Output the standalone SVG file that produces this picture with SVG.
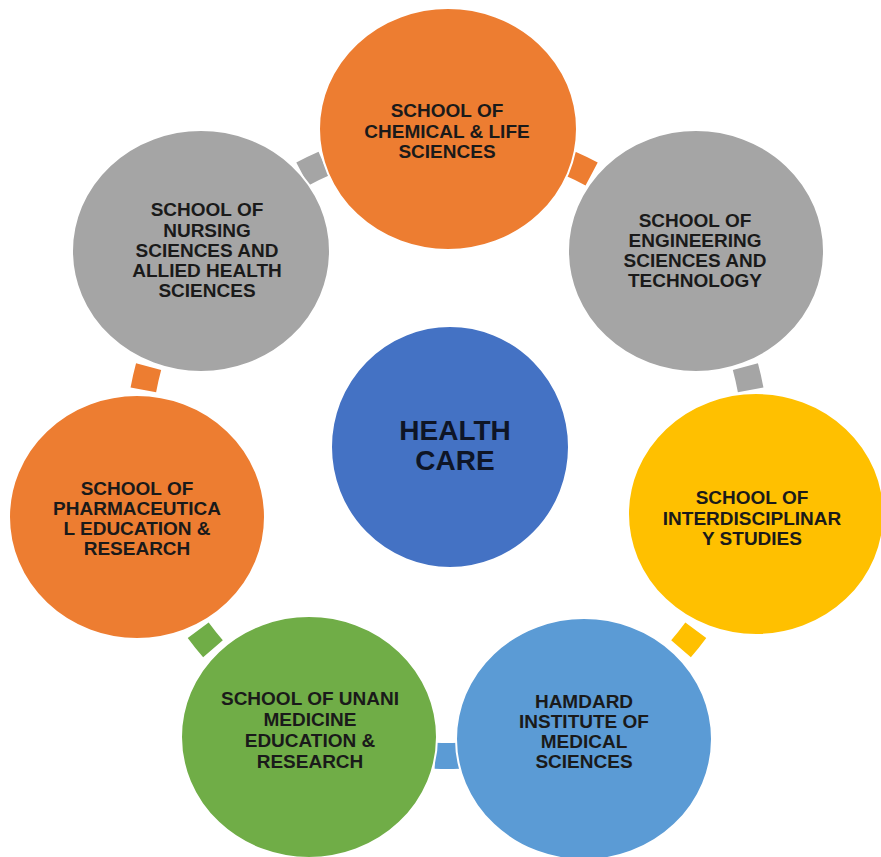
<svg xmlns="http://www.w3.org/2000/svg" xmlns:xlink="http://www.w3.org/1999/xlink" width="881" height="857" viewBox="0 0 881 857">
<style>
.node { stroke: #ffffff; stroke-width: 2; }
.lbl { font-family: "Liberation Sans", Arial, sans-serif; font-weight: bold; font-size: 19px; fill: #1a1a1a; text-anchor: middle; }
.big { font-family: "Liberation Sans", Arial, sans-serif; font-weight: bold; font-size: 28px; fill: #0e1526; text-anchor: middle; }
.orange { fill: #ED7D31; }
.gray { fill: #A5A5A5; }
.yellow { fill: #FFC000; }
.lblue { fill: #5B9BD5; }
.green { fill: #70AD47; }
.dblue { fill: #4472C4; }
</style>
<defs>
<path id="conn" d="M295.78,-11.36 L321.76,-12.36 A322,322 0 0 1 321.76,12.36 L295.78,11.36 A296,296 0 0 0 295.78,-11.36 Z"/>
</defs>
<rect width="881" height="857" fill="#ffffff"/>
<g id="connectors">
<use xlink:href="#conn" class="orange" transform="translate(447,447) rotate(-64.29)"/>
<use xlink:href="#conn" class="gray" transform="translate(447,447) rotate(-12.86)"/>
<use xlink:href="#conn" class="yellow" transform="translate(447,447) rotate(38.57)"/>
<use xlink:href="#conn" class="lblue" transform="translate(447,447) rotate(90)"/>
<use xlink:href="#conn" class="green" transform="translate(447,447) rotate(141.43)"/>
<use xlink:href="#conn" class="orange" transform="translate(447,447) rotate(192.86)"/>
<use xlink:href="#conn" class="gray" transform="translate(447,447) rotate(244.29)"/>
</g>
<g id="node-chemical">
<ellipse class="node orange" cx="448" cy="129" rx="129" ry="121"/>
<text class="lbl"><tspan x="447" y="117">SCHOOL OF</tspan><tspan x="447" y="138">CHEMICAL &amp; LIFE</tspan><tspan x="447" y="158">SCIENCES</tspan></text>
</g>
<g id="node-engineering">
<ellipse class="node gray" cx="696" cy="251" rx="128" ry="121"/>
<text class="lbl"><tspan x="695" y="227">SCHOOL OF</tspan><tspan x="695" y="247">ENGINEERING</tspan><tspan x="695" y="267">SCIENCES AND</tspan><tspan x="695" y="287">TECHNOLOGY</tspan></text>
</g>
<g id="node-interdisciplinary">
<ellipse class="node yellow" cx="756" cy="514" rx="128" ry="121"/>
<text class="lbl"><tspan x="752" y="504">SCHOOL OF</tspan><tspan x="752" y="525">INTERDISCIPLINAR</tspan><tspan x="752" y="545">Y STUDIES</tspan></text>
</g>
<g id="node-hamdard">
<ellipse class="node lblue" cx="584" cy="739" rx="128" ry="121"/>
<text class="lbl"><tspan x="584" y="708">HAMDARD</tspan><tspan x="584" y="728">INSTITUTE OF</tspan><tspan x="584" y="748">MEDICAL</tspan><tspan x="584" y="768">SCIENCES</tspan></text>
</g>
<g id="node-unani">
<ellipse class="node green" cx="309" cy="737" rx="128" ry="121"/>
<text class="lbl"><tspan x="310" y="705">SCHOOL OF UNANI</tspan><tspan x="310" y="726">MEDICINE</tspan><tspan x="310" y="747">EDUCATION &amp;</tspan><tspan x="310" y="768">RESEARCH</tspan></text>
</g>
<g id="node-pharmaceutical">
<ellipse class="node orange" cx="137" cy="517" rx="128" ry="122"/>
<text class="lbl"><tspan x="137" y="495">SCHOOL OF</tspan><tspan x="137" y="515">PHARMACEUTICA</tspan><tspan x="137" y="535">L EDUCATION &amp;</tspan><tspan x="137" y="555">RESEARCH</tspan></text>
</g>
<g id="node-nursing">
<ellipse class="node gray" cx="201" cy="251" rx="129" ry="121"/>
<text class="lbl"><tspan x="207" y="216">SCHOOL OF</tspan><tspan x="207" y="237">NURSING</tspan><tspan x="207" y="257">SCIENCES AND</tspan><tspan x="207" y="277">ALLIED HEALTH</tspan><tspan x="207" y="297">SCIENCES</tspan></text>
</g>
<g id="node-healthcare">
<ellipse class="node dblue" cx="450" cy="447" rx="119" ry="121"/>
<text class="big"><tspan x="455" y="440">HEALTH</tspan><tspan x="455" y="470">CARE</tspan></text>
</g>
</svg>
